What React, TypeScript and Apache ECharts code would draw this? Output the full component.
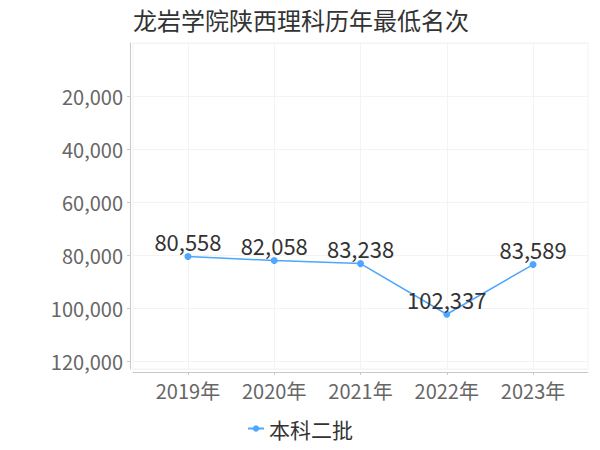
import React, { useEffect, useRef } from "react";
import * as echarts from "echarts";

const titleText = "龙岩学院陕西理科历年最低名次";
const categories = ["2019年", "2020年", "2021年", "2022年", "2023年"];
const seriesName = "本科二批";
const values = [80558, 82058, 83238, 102337, 83589];
const yTicks = [0, 20000, 40000, 60000, 80000, 100000, 120000];

const FONT = "'Noto Sans CJK SC', 'Noto Sans', sans-serif";
const fmt = (v: number) => v.toLocaleString("en-US");

export default function App() {
  const ref = useRef<HTMLDivElement>(null);
  useEffect(() => {
    if (!ref.current) return;
    const chart = echarts.init(ref.current, undefined, { renderer: "svg" });
    const idx = categories.map((_, i) => i);
    chart.setOption({
      animation: false,
      textStyle: { fontFamily: FONT },
      title: {
        text: titleText,
        left: 128,
        top: 2,
        textStyle: { fontSize: 24, fontWeight: "normal", color: "#333", fontFamily: FONT },
      },
      legend: {
        bottom: 6,
        left: "center",
        itemWidth: 16,
        itemHeight: 8,
        itemGap: 10,
        textStyle: { fontSize: 21, color: "#333", fontFamily: FONT },
        data: [seriesName],
      },
      grid: {
        left: 133,
        right: 12,
        top: 43,
        bottom: 81,
        show: true,
        borderColor: "#f3f3f3",
        borderWidth: 1,
      },
      xAxis: {
        type: "value",
        min: -0.637,
        max: 4.637,
        offset: 3,
        axisLine: { show: true, onZero: false, lineStyle: { color: "#c8c8c8", width: 1 } },
        axisTick: { show: true, length: 3, customValues: idx, lineStyle: { color: "#c8c8c8" } },
        axisLabel: {
          customValues: idx,
          formatter: (v: number) => categories[Math.round(v)] ?? "",
          fontSize: 20,
          color: "#666",
          margin: 8,
          fontFamily: FONT,
        },
        splitLine: { show: true, lineStyle: { color: "#f3f3f3", width: 1 } },
      },
      yAxis: {
        type: "value",
        inverse: true,
        min: yTicks[0],
        max: 123000,
        interval: 20000,
        offset: 3,
        axisLine: { show: true, onZero: false, lineStyle: { color: "#c8c8c8", width: 1 } },
        axisTick: { show: true, length: 3, lineStyle: { color: "#c8c8c8" } },
        axisLabel: {
          formatter: (v: number) => fmt(v),
          fontSize: 20,
          color: "#666",
          margin: 7,
          showMinLabel: false,
          showMaxLabel: false,
          fontFamily: FONT,
        },
        splitLine: { show: true, lineStyle: { color: "#f3f3f3", width: 1 } },
      },
      series: [
        {
          name: seriesName,
          type: "line",
          data: values.map((v, i) => [i, v]),
          symbol: "circle",
          symbolSize: 7,
          itemStyle: { color: "#4da6ff" },
          lineStyle: { color: "#4da6ff", width: 1.5 },
          label: {
            show: true,
            position: "top",
            distance: 1,
            fontSize: 22,
            color: "#333",
            fontFamily: FONT,
            formatter: (p: any) => fmt(p.value[1]),
          },
        },
      ],
    });
    return () => chart.dispose();
  }, []);
  return <div ref={ref} style={{ width: 600, height: 450, position: "absolute", left: 0, top: 0 }} />;
}
